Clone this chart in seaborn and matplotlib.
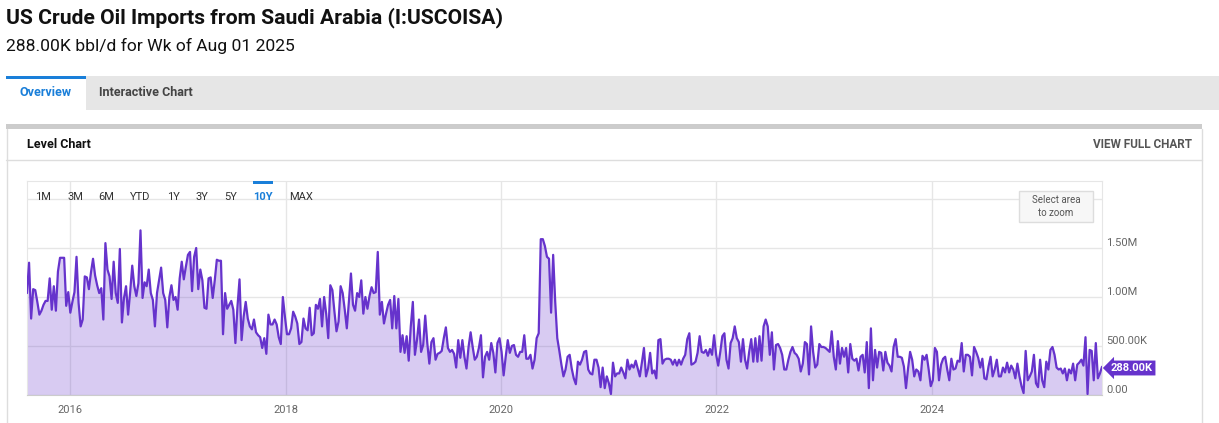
import matplotlib
matplotlib.use("Agg")
import matplotlib.pyplot as plt
import matplotlib.patches as mpatches
from matplotlib.transforms import ScaledTranslation
import seaborn as sns
import pandas as pd
import numpy as np

# weekly imports, million bbl/d (Aug 2015 -> Aug 2025)
imp_2015_2017 = [1.04, 1.35, 0.78, 1.08, 1.07, 0.95, 0.82, 0.86, 0.92, 0.96,
                 0.96, 1.19, 0.87, 1.11, 0.86, 1.26, 1.40, 1.40, 1.40, 0.91,
                 1.05, 0.84, 0.95, 1.05, 1.41, 0.94, 0.70, 0.77, 1.21, 1.20,
                 1.08, 1.25, 1.39, 1.22, 1.12, 1.04, 1.09, 0.77, 1.55, 1.28,
                 1.21, 0.98, 1.36, 1.04, 0.94, 1.49, 0.74, 0.99, 1.11, 0.82,
                 1.05, 1.32, 1.11, 1.01, 1.14, 1.68, 0.99, 1.15, 1.11, 1.28,
                 1.04, 0.97, 0.70, 1.04, 1.17, 1.30, 1.04, 0.97, 0.69, 1.00,
                 1.12, 0.97, 1.00, 0.87, 1.19, 1.36, 1.18, 1.31, 1.43, 1.46,
                 1.06, 1.41, 1.50, 1.08, 1.28, 1.17, 0.89, 0.88, 1.19]
imp_2017_2019 = [1.20, 0.99, 1.17, 1.38, 1.37, 1.37, 0.62, 1.04, 0.88, 0.92,
                 0.96, 0.87, 0.53, 0.90, 1.18, 0.56, 0.80, 0.95, 0.78, 0.70,
                 0.67, 0.77, 0.64, 0.61, 0.59, 0.48, 0.58, 0.42, 0.82, 0.72,
                 0.72, 0.77, 0.72, 0.59, 0.52, 1.00, 0.80, 0.62, 0.62, 0.68,
                 0.85, 0.80, 0.73, 0.52, 0.54, 0.78, 0.68, 0.66, 0.89, 0.61,
                 0.63, 0.92, 0.88, 0.98, 0.70, 1.00, 0.83, 0.58, 1.12, 1.07,
                 0.85, 0.65, 0.75, 1.11, 1.04, 0.87, 0.68, 0.95, 1.24, 0.92,
                 0.86, 1.04, 1.00, 1.17, 0.83, 1.00, 0.88, 1.01, 1.10, 1.04,
                 1.05, 1.46, 0.82, 0.95, 0.73, 0.83, 0.92, 0.97]
imp_2019_2020 = [0.68, 1.01, 0.68, 0.98, 0.44, 0.61, 0.43, 0.60, 0.35, 0.70,
                 0.95, 0.41, 0.56, 0.77, 0.44, 0.51, 0.81, 0.53, 0.32, 0.54,
                 0.58, 0.36, 0.42, 0.43, 0.45, 0.58, 0.69, 0.48, 0.44, 0.46,
                 0.42, 0.28, 0.56, 0.38, 0.56, 0.39, 0.27, 0.49, 0.64, 0.49,
                 0.36, 0.39, 0.48, 0.61, 0.18, 0.39, 0.44, 0.36, 0.53, 0.43,
                 0.23, 0.53, 0.58, 0.44, 0.20, 0.39, 0.56, 0.43, 0.50, 0.51,
                 0.41, 0.39, 0.44]
imp_2020_2021 = [0.44, 0.61, 0.37, 0.37, 0.41, 0.27, 0.36, 0.58, 0.63, 1.59,
                 1.59, 1.52, 1.41, 1.39, 0.84, 1.43, 0.95, 0.58,
                 0.45, 0.31, 0.19, 0.26, 0.39, 0.41, 0.27, 0.17, 0.11, 0.34,
                 0.31, 0.36, 0.44, 0.45, 0.26, 0.22, 0.21, 0.36, 0.36, 0.28,
                 0.08, 0.28, 0.07, 0.19, 0.12, 0.01, 0.33, 0.19, 0.22, 0.22,
                 0.28, 0.23, 0.17, 0.36, 0.26, 0.31, 0.28, 0.35, 0.27, 0.19,
                 0.33, 0.48, 0.19, 0.27, 0.43, 0.22, 0.25, 0.17]
imp_2021_2022 = [0.56, 0.57, 0.32, 0.36, 0.37, 0.37, 0.36, 0.31, 0.36, 0.30,
                 0.36, 0.31, 0.37, 0.41, 0.57, 0.63, 0.31, 0.32, 0.34, 0.43,
                 0.60, 0.44, 0.43, 0.46, 0.40, 0.47, 0.41, 0.61, 0.41, 0.30,
                 0.44, 0.60, 0.63, 0.36, 0.27, 0.53, 0.58, 0.70, 0.58, 0.54,
                 0.34, 0.57, 0.36, 0.27, 0.44, 0.57, 0.34, 0.58, 0.34, 0.60,
                 0.35, 0.70, 0.77, 0.70, 0.41, 0.64, 0.26, 0.51, 0.52, 0.48,
                 0.41, 0.26, 0.26, 0.36, 0.44]
imp_2022_2024 = [0.49, 0.43, 0.41, 0.37, 0.24, 0.32, 0.54, 0.52, 0.21, 0.70,
                 0.44, 0.28, 0.31, 0.52, 0.49, 0.49, 0.48, 0.46, 0.44, 0.65,
                 0.39, 0.26, 0.55, 0.32, 0.48, 0.39, 0.48, 0.23, 0.52, 0.37,
                 0.35, 0.37, 0.25, 0.39, 0.41, 0.23, 0.54, 0.07, 0.68, 0.15,
                 0.46, 0.28, 0.44, 0.43, 0.25, 0.44, 0.33, 0.30, 0.24, 0.49,
                 0.57, 0.39, 0.39, 0.38, 0.29, 0.07, 0.27, 0.44, 0.36, 0.19,
                 0.26, 0.24, 0.15, 0.40, 0.36, 0.41]
imp_2024_2025 = [0.26, 0.09, 0.15, 0.48, 0.44, 0.15, 0.31, 0.37, 0.39, 0.26,
                 0.15, 0.37, 0.26, 0.27, 0.35, 0.34, 0.53, 0.24, 0.41, 0.41,
                 0.39, 0.20, 0.49, 0.44, 0.38, 0.28, 0.37, 0.17, 0.16, 0.29,
                 0.39, 0.19, 0.26, 0.36, 0.19, 0.19, 0.28, 0.23, 0.33, 0.23,
                 0.30, 0.26, 0.17, 0.32, 0.19, 0.09, 0.02, 0.45, 0.15, 0.19,
                 0.24, 0.41, 0.12, 0.08, 0.36, 0.15, 0.08, 0.34, 0.26, 0.46,
                 0.49, 0.41, 0.28, 0.26, 0.27, 0.22]
imp_2025 = [0.27, 0.15, 0.26, 0.22, 0.32, 0.15, 0.31, 0.33, 0.36, 0.30,
            0.59, 0.01, 0.46, 0.45, 0.15, 0.53, 0.17, 0.22, 0.288]

last_week = "2025-08-01"
y_ticks = [0, 500, 1000, 1500, 2000]
y_tick_labels = ["0.00", "500.00K", "1.00M", "1.50M", ""]
x_years = [2016, 2018, 2020, 2022, 2024]
range_buttons = ["1M", "3M", "6M", "YTD", "1Y", "3Y", "5Y", "10Y", "MAX"]
button_x = [43, 75, 106, 140, 173, 202, 231, 263, 301]

values = np.concatenate([imp_2015_2017, imp_2017_2019, imp_2019_2020, imp_2020_2021,
                         imp_2021_2022, imp_2022_2024, imp_2024_2025, imp_2025]) * 1000
dates = pd.date_range(end=last_week, periods=len(values), freq="W-FRI")
df = pd.DataFrame({"date": dates, "kbd": values})

W, H = 1219, 423
LINE = "#6633cc"
BLUE = "#1a7fd9"

sns.set_style("white")
plt.rcParams["font.family"] = ["Roboto", "DejaVu Sans"]

fig = plt.figure(figsize=(W / 100, H / 100), dpi=100)


def fx(x):
    return x / W


def fy(y):
    return 1 - y / H


def box(x0, y0, x1, y1, z=-1, **kw):
    r = mpatches.Rectangle((fx(x0), fy(y1)), fx(x1) - fx(x0), fy(y0) - fy(y1),
                           transform=fig.transFigure, zorder=z, **kw)
    fig.add_artist(r)


# header
fig.text(fx(6), fy(18), "US Crude Oil Imports from Saudi Arabia (I:USCOISA)",
         fontsize=15.2, fontweight="bold", color="#111111", va="center")
fig.text(fx(6), fy(46), "288.00K bbl/d for Wk of Aug 01 2025",
         fontsize=12.6, color="#111111", va="center")

# tab bar
box(6, 76, W, 110, color="#e6e6e6", lw=0)
box(6, 76, 86, 110, color="white", lw=0)
box(6, 76, 86, 79, color=BLUE, lw=0)
fig.text(fx(46), fy(93), "Overview", fontsize=9, fontweight="bold", color=BLUE,
         ha="center", va="center")
fig.text(fx(146), fy(92), "Interactive Chart", fontsize=9, fontweight="bold",
         color="#444444", ha="center", va="center")

# panel
box(6, 124, 1202, 129, color="#cccccc", lw=0)
fig.add_artist(plt.Line2D([fx(6.5), fx(6.5)], [fy(129), 0], transform=fig.transFigure,
                          color="#dddddd", lw=1, zorder=-1))
fig.add_artist(plt.Line2D([fx(1202), fx(1202)], [fy(129), 0], transform=fig.transFigure,
                          color="#dddddd", lw=1, zorder=-1))
fig.add_artist(plt.Line2D([fx(6), fx(1202)], [fy(160), fy(160)], transform=fig.transFigure,
                          color="#dddddd", lw=1, zorder=-1))
fig.text(fx(27), fy(144), "Level Chart", fontsize=9, fontweight="bold", color="#111111",
         va="center")
fig.text(fx(1192), fy(145), "VIEW FULL CHART", fontsize=8.5, fontweight="bold",
         color="#555555", ha="right", va="center")

# chart
ax = fig.add_axes([fx(27), fy(395), fx(1102) - fx(27), fy(181) - fy(395)])
sns.lineplot(data=df, x="date", y="kbd", ax=ax, color=LINE, linewidth=1.6, zorder=3)
ax.fill_between(df["date"], df["kbd"], color=LINE, alpha=0.25, linewidth=0, zorder=2)
ax.set_xlim(dates[0], dates[-1])
ax.set_ylim(0, (395 - 181) / 98 * 1000)
ax.set_xlabel("")
ax.set_ylabel("")

ax.set_xticks([pd.Timestamp(f"{y}-01-01") for y in x_years])
ax.set_xticklabels([str(y) for y in x_years])
ax.set_yticks(y_ticks)
ax.set_yticklabels(y_tick_labels)
ax.yaxis.tick_right()
ax.grid(True, color="#e6e6e6", linewidth=1, zorder=1)
ax.set_axisbelow(True)
ax.tick_params(length=0, labelsize=8, labelcolor="#666666")
ax.tick_params(axis="x", pad=7)
ax.tick_params(axis="y", pad=3)
shift = ScaledTranslation(0, 6 / 100, fig.dpi_scale_trans)
for lbl in ax.get_yticklabels():
    lbl.set_transform(lbl.get_transform() + shift)
for side in ["top", "left", "right"]:
    ax.spines[side].set_color("#e6e6e6")
ax.spines["bottom"].set_color("#cccccc")

# range selector
for name, bx in zip(range_buttons, button_x):
    sel = name == "10Y"
    fig.text(fx(bx), fy(197), name, fontsize=8, ha="center", va="center",
             color=BLUE if sel else "#333333", fontweight="bold" if sel else "normal")
box(253, 181, 273, 184, z=5, color=BLUE, lw=0)

# zoom hint box
box(1019, 191, 1093, 222, z=5, facecolor="#f7f7f7", edgecolor="#dddddd", lw=1)
fig.text(fx(1056), fy(200), "Select area", fontsize=7, color="#555555", ha="center",
         va="center", zorder=6)
fig.text(fx(1056), fy(213), "to zoom", fontsize=7, color="#555555", ha="center",
         va="center", zorder=6)

# last value tag
fig.text(fx(1111), fy(368), f"{values[-1]:.2f}K", fontsize=8, fontweight="bold",
         color="white", va="center", zorder=6,
         bbox=dict(boxstyle="larrow,pad=0.22", fc=LINE, ec="none"))

fig.savefig("out.png", dpi=100)
